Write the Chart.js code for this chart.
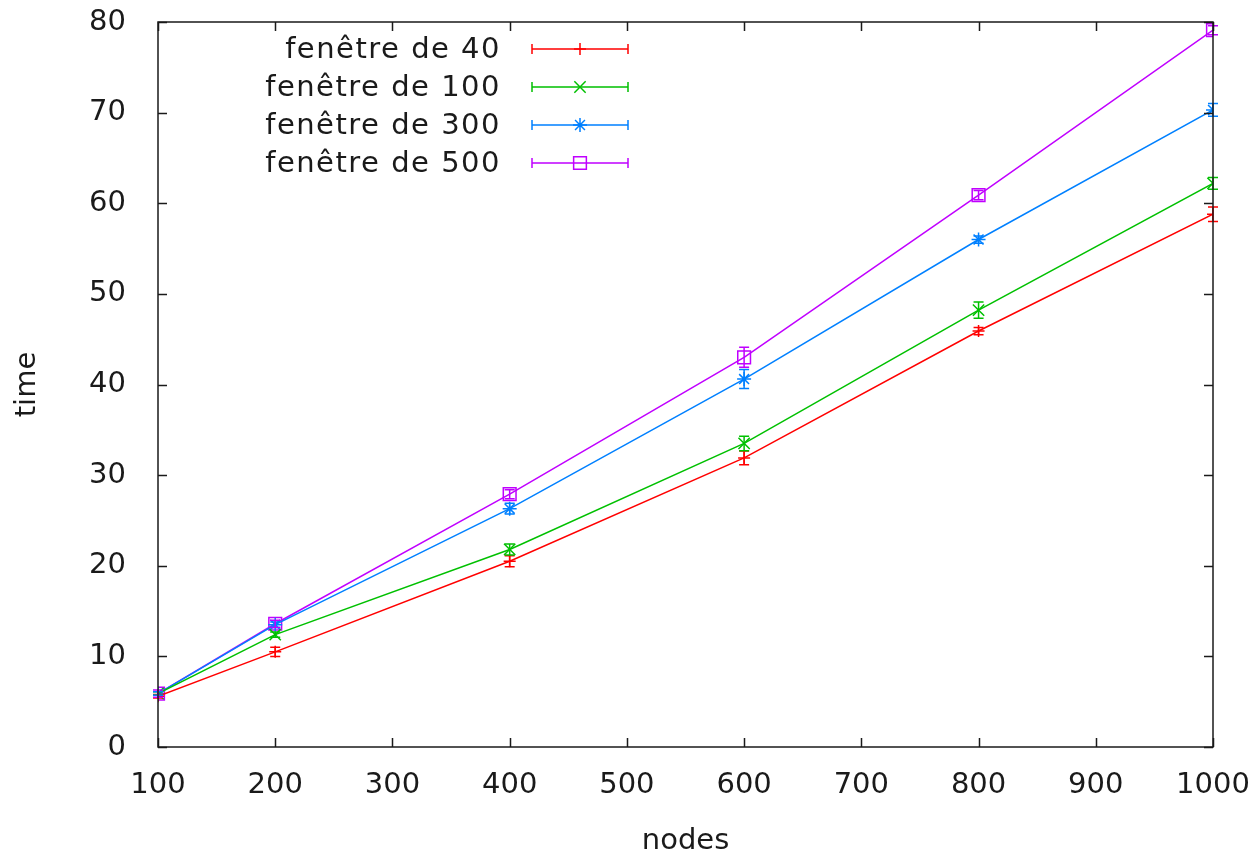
<!DOCTYPE html>
<html lang="fr">
<head>
<meta charset="UTF-8">
<title>time vs nodes</title>
<script src="https://cdn.jsdelivr.net/npm/chart.js"></script>
<style>
    html, body { margin: 0; padding: 0; background: #fff; }
    #wrap { width: 1254px; height: 855px; }
</style>
</head>
<body>
<div id="wrap"><canvas id="timeGraph"></canvas></div>
<script>
    // data
    const nodes = [100, 200, 400, 600, 800, 1000];
    const seriesNames = ['fenêtre de 40', 'fenêtre de 100', 'fenêtre de 300', 'fenêtre de 500'];

    const win40 = [5.6, 10.5, 20.5, 31.9, 45.9, 58.8];
    const win40Err = [0.2, 0.5, 0.6, 0.75, 0.4, 0.8];
    const win100 = [5.9, 12.4, 21.8, 33.5, 48.2, 62.2];
    const win100Err = [0.2, 0.3, 0.6, 0.8, 0.9, 0.65];
    const win300 = [5.9, 13.5, 26.3, 40.6, 56.0, 70.3];
    const win300Err = [0.2, 0.3, 0.6, 1.05, 0.4, 0.7];
    const win500 = [5.9, 13.6, 27.9, 43.0, 60.9, 79.1];
    const win500Err = [0.4, 0.4, 0.5, 1.1, 0.5, 0.5];

    const xTicks = [100, 200, 300, 400, 500, 600, 700, 800, 900, 1000];
    const yTicks = [0, 10, 20, 30, 40, 50, 60, 70, 80];

    const colors = ['#ff0000', '#00c000', '#0080ff', '#c000ff'];
    const styles = ['cross', 'crossRot', 'star', 'rect'];
    const radii = [6, 8, 7, 9];
    const values = [win40, win100, win300, win500];
    const errors = [win40Err, win100Err, win300Err, win500Err];

    const FONT = 'DejaVu Sans';
    const INK = '#1a1a1a';

    const datasets = values.map((vals, i) => ({
        label: seriesNames[i],
        data: nodes.map((n, k) => ({ x: n, y: vals[k] })),
        errors: errors[i],
        borderColor: colors[i],
        backgroundColor: 'rgba(0,0,0,0)',
        borderWidth: 1.5,
        pointStyle: styles[i],
        pointRadius: radii[i],
        pointBorderColor: colors[i],
        pointBackgroundColor: 'rgba(0,0,0,0)',
        pointBorderWidth: 1.5,
        tension: 0
    }));

    // vertical error bars with small caps
    const errorBars = {
        id: 'errorBars',
        afterDatasetsDraw(chart) {
            const ctx = chart.ctx;
            const xs = chart.scales.x, ys = chart.scales.y;
            chart.data.datasets.forEach(ds => {
                ctx.save();
                ctx.strokeStyle = ds.borderColor;
                ctx.lineWidth = 1.5;
                ds.data.forEach((p, k) => {
                    const e = ds.errors[k];
                    const px = xs.getPixelForValue(p.x);
                    const y1 = ys.getPixelForValue(p.y - e);
                    const y2 = ys.getPixelForValue(p.y + e);
                    ctx.beginPath();
                    ctx.moveTo(px, y1); ctx.lineTo(px, y2);
                    ctx.moveTo(px - 5, y1); ctx.lineTo(px + 5, y1);
                    ctx.moveTo(px - 5, y2); ctx.lineTo(px + 5, y2);
                    ctx.stroke();
                });
                ctx.restore();
            });
        }
    };

    // gnuplot style frame with inward mirrored ticks
    const frame = {
        id: 'frame',
        afterDraw(chart) {
            const ctx = chart.ctx;
            const a = chart.chartArea;
            const xs = chart.scales.x, ys = chart.scales.y;
            const len = 9;
            ctx.save();
            ctx.strokeStyle = INK;
            ctx.lineWidth = 1.5;
            ctx.beginPath();
            xTicks.forEach(v => {
                const px = Math.round(xs.getPixelForValue(v)) + 0.5;
                ctx.moveTo(px, a.bottom); ctx.lineTo(px, a.bottom - len);
                ctx.moveTo(px, a.top); ctx.lineTo(px, a.top + len);
            });
            yTicks.forEach(v => {
                const py = Math.round(ys.getPixelForValue(v)) + 0.5;
                ctx.moveTo(a.left, py); ctx.lineTo(a.left + len, py);
                ctx.moveTo(a.right, py); ctx.lineTo(a.right - len, py);
            });
            ctx.stroke();
            ctx.strokeRect(a.left, a.top, a.right - a.left, a.bottom - a.top);
            ctx.restore();
        }
    };

    // key in the top left corner, text right aligned then a sample
    const key = {
        id: 'key',
        afterDraw(chart) {
            const ctx = chart.ctx;
            ctx.save();
            ctx.font = '29px "' + FONT + '"';
            ctx.letterSpacing = '1.5px';
            ctx.textAlign = 'right';
            ctx.textBaseline = 'middle';
            chart.data.datasets.forEach((ds, i) => {
                const y = 49 + i * 38;
                ctx.fillStyle = INK;
                ctx.fillText(ds.label, 501, y + 1);
                ctx.strokeStyle = ds.borderColor;
                ctx.lineWidth = 1.5;
                ctx.beginPath();
                ctx.moveTo(532, y); ctx.lineTo(628, y);
                ctx.moveTo(532, y - 5); ctx.lineTo(532, y + 5);
                ctx.moveTo(628, y - 5); ctx.lineTo(628, y + 5);
                ctx.stroke();
                ctx.fillStyle = 'rgba(0,0,0,0)';
                Chart.helpers.drawPoint(ctx, {
                    pointStyle: ds.pointStyle,
                    radius: ds.pointRadius,
                    rotation: 0,
                    borderWidth: 1.5
                }, 580, y);
            });
            ctx.restore();
        }
    };

    const timeChart = new Chart(document.getElementById('timeGraph').getContext('2d'), {
        type: 'line',
        data: { datasets: datasets },
        options: {
            responsive: true,
            maintainAspectRatio: false,
            animation: false,
            layout: { padding: { top: 22, right: 41, left: 0, bottom: 0 } },
            plugins: {
                legend: { display: false },
                tooltip: { enabled: false }
            },
            scales: {
                x: {
                    type: 'linear',
                    min: 100,
                    max: 1000,
                    afterFit(scale) {
                        scale.height = 108;
                        scale.paddingLeft = 0;
                        scale.paddingRight = 0;
                    },
                    afterBuildTicks(scale) { scale.ticks = xTicks.map(v => ({ value: v })); },
                    grid: { display: false, drawTicks: false },
                    border: { display: false },
                    ticks: {
                        padding: 21,
                        color: INK,
                        font: { family: FONT, size: 29 },
                        maxRotation: 0,
                        callback: v => String(v)
                    },
                    title: {
                        display: true,
                        text: 'nodes',
                        color: INK,
                        font: { family: FONT, size: 29 },
                        padding: { top: 0, bottom: -4 }
                    }
                },
                y: {
                    min: 0,
                    max: 80,
                    afterFit(scale) {
                        scale.width = 158;
                        scale.paddingTop = 0;
                        scale.paddingBottom = 0;
                    },
                    afterBuildTicks(scale) { scale.ticks = yTicks.map(v => ({ value: v })); },
                    grid: { display: false, drawTicks: false },
                    border: { display: false },
                    ticks: {
                        padding: 32,
                        color: INK,
                        font: { family: FONT, size: 29 },
                        callback: v => String(v)
                    },
                    title: {
                        display: true,
                        text: 'time',
                        color: INK,
                        font: { family: FONT, size: 29 },
                        padding: { top: 10, bottom: 0 }
                    }
                }
            }
        },
        plugins: [errorBars, frame, key]
    });
</script>
</body>
</html>
